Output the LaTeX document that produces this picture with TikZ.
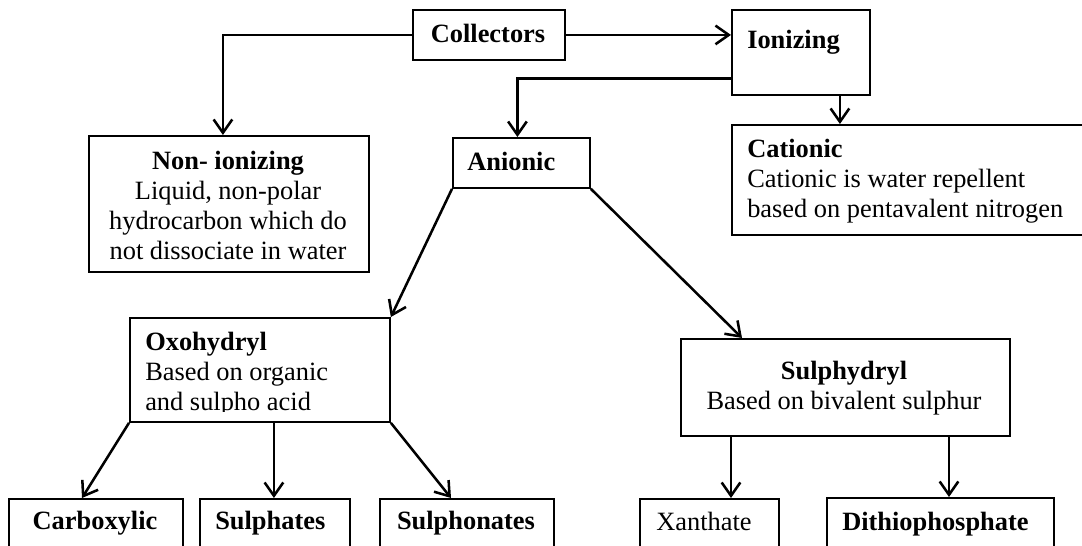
\documentclass[tikz,border=0pt]{standalone}
\usepackage{fontspec}
\setmainfont{Liberation Serif}
\usetikzlibrary{arrows.meta,calc}
\tikzset{
  box/.style={draw, line width=1.4pt, inner sep=0pt, anchor=north west},
  txt/.style={inner sep=0pt, font=\fontsize{19.8}{22.5}\selectfont},
  conn/.style={line width=1.9pt, -{Straight Barb[length=10pt,width=14pt]}},
}
\newcommand\mkbox[5]{\node[box, minimum width={(#4-#2)*0.75pt}, minimum height={(#5-#3)*0.75pt}] (#1) at (#2,#3) {};}
\begin{document}
\begin{tikzpicture}[x=0.75pt,y=-0.75pt]
\useasboundingbox (0,0) rectangle (1082,546);
\clip (0,0) rectangle (1082,546);
\fill[white] (0,0) rectangle (1082,546);
% boxes
\mkbox{coll}{412}{9}{564}{59}
\mkbox{ion}{731}{9}{869}{94}
\mkbox{cat}{731}{124}{1095}{234}
\mkbox{nonion}{88}{135}{368}{271}
\mkbox{anion}{452}{137}{589}{187}
\mkbox{oxo}{129}{317}{389}{421}
\mkbox{sulf}{680}{338}{1009}{435}
\mkbox{carb}{8}{498}{182}{560}
\mkbox{sulphat}{199}{498}{349}{560}
\mkbox{sulphon}{379}{498}{553}{560}
\mkbox{xan}{639}{498}{778}{560}
\mkbox{dith}{826}{497}{1053}{560}
% texts (multi-line nodes: base anchor is the last line's baseline)
\node[txt, anchor=base] (collT) at (488,42) {\textbf{Collectors}};
\node[txt, anchor=base west] (ionT) at (747,48) {\textbf{Ionizing}};
\node[txt, anchor=base west, align=left] (catT) at (747,217) {\textbf{Cationic}\\Cationic is water repellent\\based on pentavalent nitrogen};
\node[txt, anchor=base, align=center] (nonT) at (228,259) {\textbf{Non- ionizing}\\Liquid, non-polar\\hydrocarbon which do\\not dissociate in water};
\node[txt, anchor=base west] (anT) at (467,170) {\textbf{Anionic}};
\begin{scope}
\clip (129,317) rectangle (389,411);
\node[txt, anchor=base west, align=left] (oxoT) at (145,410) {\textbf{Oxohydryl}\\Based on organic\\and sulpho acid};
\end{scope}
\node[txt, anchor=base, align=center] (sulT) at (844,409) {\textbf{Sulphydryl}\\Based on bivalent sulphur};
\node[txt, anchor=base] (carbT) at (95,529) {\textbf{Carboxylic}};
\node[txt, anchor=base west] (sulphatT) at (215,529) {\textbf{Sulphates}};
\node[txt, anchor=base] (sulphonT) at (466,529) {\textbf{Sulphonates}};
\node[txt, anchor=base west] (xanT) at (656,530) {Xanthate};
\node[txt, anchor=base west] (dithT) at (842,530) {\textbf{Dithiophosphate}};
% connectors
\coordinate (nonTop) at ($(nonion.north)+(-6,0)$);
\draw[conn] (coll.west) -| (nonTop);
\draw[conn] (coll.east) -- (coll.east -| ion.west);
\coordinate (ionL) at ($(ion.west)+(0,26)$);
\coordinate (anTop) at ($(anion.north)+(-4,0)$);
\draw[conn] (ionL) -| (anTop);
\coordinate (ionB) at ($(ion.south)+(39,0)$);
\draw[conn] (ionB) -- (ionB |- cat.north);
\draw[conn] (anion.south west) -- (oxo.north east);
\draw[conn] (anion.south east) -- ($(sulf.north west)+(62,0)$);
\draw[conn] (oxo.south west) -- ($(carb.north west)+(74,0)$);
\coordinate (oxoB) at ($(oxo.south)+(14,0)$);
\draw[conn] (oxoB) -- (oxoB |- sulphat.north);
\draw[conn] (oxo.south east) -- ($(sulphon.north west)+(72,0)$);
\coordinate (sulB1) at ($(sulf.south west)+(51,0)$);
\draw[conn] (sulB1) -- (sulB1 |- xan.north);
\coordinate (sulB2) at ($(sulf.south west)+(269,0)$);
\draw[conn] (sulB2) -- (sulB2 |- dith.north);
\end{tikzpicture}
\end{document}
